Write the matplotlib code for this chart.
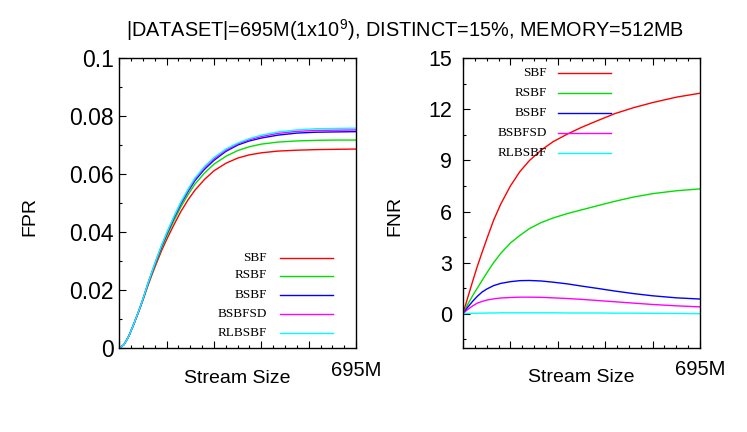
import matplotlib
matplotlib.use("Agg")
import matplotlib.pyplot as plt
from matplotlib.ticker import MultipleLocator, FixedLocator
from matplotlib.lines import Line2D

# ---------------- data ----------------
series_names = ["SBF", "RSBF", "BSBF", "BSBFSD", "RLBSBF"]
series_colors = ["#ff0000", "#00e000", "#0000ff", "#ff00ff", "#00ffff"]

# FPR panel (x in millions of stream elements)
fpr_x = [0, 14, 28, 42, 56, 70, 83, 97, 111, 125, 139, 160, 181, 202, 222, 250,
         278, 313, 348, 382, 417, 466, 521, 577, 632, 695]
fpr_sbf    = [0, .0013, .0042, .0081, .0123, .0168, .0213, .0257, .0299, .0339, .0375, .0425, .0472,
              .0512, .0545, .0582, .0612, .0638, .0656, .0667, .0674, .0680, .0683, .0685, .0686, .0687]
fpr_rsbf   = [0, .0013, .0042, .0082, .0124, .0170, .0216, .0262, .0306, .0348, .0386, .0439, .0488,
              .0530, .0566, .0604, .0635, .0662, .0682, .0695, .0704, .0711, .0715, .0717, .0718, .0718]
fpr_bsbf   = [0, .0013, .0042, .0082, .0125, .0171, .0219, .0266, .0311, .0354, .0393, .0448, .0498,
              .0541, .0578, .0617, .0648, .0679, .0701, .0715, .0725, .0735, .0742, .0745, .0746, .0747]
fpr_bsbfsd = [0, .0013, .0042, .0082, .0125, .0172, .0220, .0267, .0313, .0356, .0396, .0451, .0502,
              .0545, .0583, .0622, .0653, .0683, .0705, .0719, .0730, .0741, .0748, .0751, .0752, .0753]
fpr_rlbsbf = [0, .0013, .0042, .0082, .0125, .0172, .0220, .0268, .0314, .0358, .0398, .0454, .0505,
              .0549, .0587, .0627, .0658, .0687, .0708, .0723, .0735, .0746, .0753, .0757, .0758, .0759]

# FNR panel
fnr_x = [0, 14, 28, 42, 56, 70, 90, 111, 139, 167, 195, 229, 264, 306, 348, 396, 445, 500, 556, 626, 695]
fnr_sbf    = [0, 0.95, 1.88, 2.78, 3.6, 4.4, 5.5, 6.45, 7.5, 8.35, 9.0, 9.6, 10.1, 10.55, 10.95,
              11.35, 11.75, 12.1, 12.4, 12.72, 12.95]
fnr_rsbf   = [0, 0.55, 1.05, 1.5, 1.95, 2.4, 3.0, 3.55, 4.15, 4.6, 5.0, 5.35, 5.62, 5.88, 6.1,
              6.35, 6.6, 6.85, 7.05, 7.22, 7.33]
fnr_bsbf   = [0, 0.38, 0.72, 1.02, 1.27, 1.45, 1.65, 1.78, 1.88, 1.94, 1.95, 1.92, 1.85, 1.75, 1.62,
              1.48, 1.33, 1.18, 1.05, 0.93, 0.86]
fnr_bsbfsd = [0, 0.25, 0.45, 0.62, 0.72, 0.8, 0.87, 0.92, 0.95, 0.97, 0.97, 0.96, 0.93, 0.89, 0.84,
              0.77, 0.70, 0.62, 0.54, 0.46, 0.40]
fnr_rlbsbf = [0, 0.01, 0.02, 0.03, 0.03, 0.04, 0.04, 0.05, 0.05, 0.05, 0.05, 0.05, 0.05, 0.04, 0.04,
              0.04, 0.03, 0.03, 0.02, 0.01, 0.0]

x_major = [0, 139, 278, 417, 556, 695]
x_tick_labels = ["", "", "", "", "", "695M"]

title = "|DATASET|=695M(1x10$^9$), DISTINCT=15%, MEMORY=512MB"

# ---------------- figure ----------------
plt.rcParams["font.family"] = ["Liberation Sans", "DejaVu Sans"]
plt.rcParams["mathtext.fontset"] = "custom"
plt.rcParams["mathtext.rm"] = "Liberation Sans"

fig = plt.figure(figsize=(7.47, 4.32), dpi=100)
axL = fig.add_axes([0.1597, 0.1938, 0.3169, 0.6713])
axR = fig.add_axes([0.6198, 0.1951, 0.3173, 0.6699])

fpr_data = [fpr_sbf, fpr_rsbf, fpr_bsbf, fpr_bsbfsd, fpr_rlbsbf]
fnr_data = [fnr_sbf, fnr_rsbf, fnr_bsbf, fnr_bsbfsd, fnr_rlbsbf]

for vals, c in zip(fpr_data, series_colors):
    axL.plot(fpr_x, vals, color=c, lw=1.0)
for vals, c in zip(fnr_data, series_colors):
    axR.plot(fnr_x, vals, color=c, lw=1.0)

axL.set_xlim(0, 695)
axL.set_ylim(0, 0.1)
axL.set_yticks([0, 0.02, 0.04, 0.06, 0.08, 0.1])
axL.set_yticklabels(["0", "0.02", "0.04", "0.06", "0.08", "0.1"])
axL.yaxis.set_minor_locator(MultipleLocator(0.01))

axR.set_xlim(0, 695)
axR.set_ylim(-2, 15)
axR.set_yticks([0, 3, 6, 9, 12, 15])
axR.set_yticklabels(["0", "3", "6", "9", "12", "15"])
axR.yaxis.set_minor_locator(FixedLocator([-1.5, 1.5, 4.5, 7.5, 10.5, 13.5]))

for ax, ylab in ((axL, "FPR"), (axR, "FNR")):
    ax.set_xticks(x_major)
    ax.set_xticklabels(x_tick_labels)
    ax.xaxis.set_minor_locator(MultipleLocator(34.75))
    ax.tick_params(axis="both", which="both", direction="in", top=True, right=False, width=0.8)
    ax.tick_params(axis="both", which="major", length=5)
    ax.tick_params(axis="both", which="minor", length=2.5)
    ax.tick_params(axis="x", which="major", pad=9, labelsize=14.5)
    for s in ax.spines.values():
        s.set_linewidth(1.0)
    ax.set_xlabel("Stream Size", fontsize=14, va="center")
    ax.xaxis.set_label_coords(0.5, -0.103)
    ax.set_ylabel(ylab, fontsize=14)

axL.tick_params(axis="y", which="major", pad=4, labelsize=16.5)
axR.tick_params(axis="y", which="major", pad=8, labelsize=15.5)

axL.yaxis.set_label_coords(38 / 747, 0.5, transform=fig.transFigure)
axR.yaxis.set_label_coords(403 / 747, 0.5, transform=fig.transFigure)

fig.text(0.542, 0.93, title, ha="center", va="center", fontsize=14.3)

# ---------------- legends (gnuplot style: text, then line sample) ----------------
def legend(text_right_px, line_x0_px, line_x1_px, rows_px, fig_w=747, fig_h=432):
    for name, c, ypx in zip(series_names, series_colors, rows_px):
        y = 1 - ypx / fig_h
        fig.text(text_right_px / fig_w, y, name, ha="right", va="center",
                 fontsize=9.5, family=["Liberation Serif", "DejaVu Serif"])
        fig.add_artist(Line2D([line_x0_px / fig_w, line_x1_px / fig_w], [y, y],
                              color=c, lw=1.0, transform=fig.transFigure))

legend(267, 280, 333, [257.7, 275.5, 294.5, 314, 333.3])
legend(547, 558, 611, [73.3, 93.3, 112.7, 132.7, 152.7])

fig.savefig("out.png", dpi=100)
